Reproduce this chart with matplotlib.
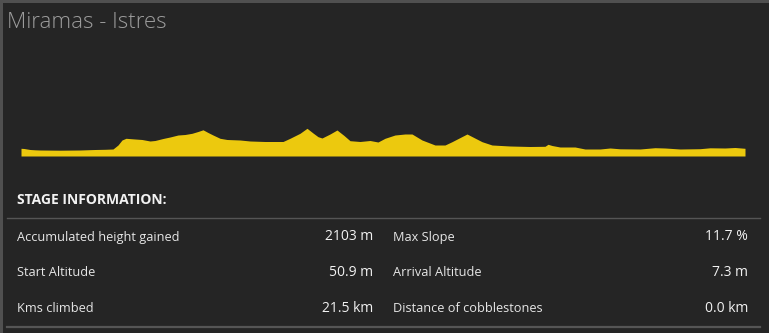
import matplotlib
matplotlib.use("Agg")
import matplotlib.pyplot as plt
from matplotlib.lines import Line2D
from matplotlib.patches import Rectangle

plt.rcParams['font.family'] = ['Open Sans', 'DejaVu Sans']

# Stage profile: distance (km) and altitude (m)
distance_km = [0, 0.75, 2.25, 3.5, 4.75, 9.75, 14.75, 18.5, 21, 23, 24.25, 25.25, 26.25,
               28.5, 30.25, 32.25, 33.5, 35.5, 37.25, 39.25, 41, 42.75, 44.25, 45.5,
               46.75, 48, 49.75, 51.5, 54.75, 57.25, 61, 65.5, 67.25, 69.75, 71.5, 73,
               74.25, 75.25, 77.25, 79, 80.75, 82.25, 84.75, 87.25, 89.25, 91, 93.5, 96,
               97.75, 100.25, 103.5, 106, 107.75, 111.5, 115.25, 117.75, 122.25, 127.25,
               131, 131.75, 132.75, 134.75, 138.5, 141, 144.75, 147.25, 149.75, 154.75,
               158.5, 161, 164.75, 169.75, 172.25, 176, 178.5, 181]
altitude_m = [77, 75, 65, 62, 60, 58, 60, 65, 67, 70, 110, 160, 177,
              170, 165, 150, 155, 175, 190, 210, 215, 227, 245, 262,
              235, 210, 177, 165, 160, 150, 145, 145, 177, 227, 277, 230,
              193, 180, 220, 260, 205, 153, 145, 155, 140, 177, 210, 220,
              220, 160, 110, 110, 143, 220, 143, 110, 100, 95,
              97, 117, 105, 90, 90, 70, 70, 80, 72, 70,
              83, 80, 70, 73, 82, 80, 85, 77]

stage_title = "Miramas - Istres"
section_title = "STAGE INFORMATION:"
left_labels = ["Accumulated height gained", "Start Altitude", "Kms climbed"]
left_values = ["2103 m", "50.9 m", "21.5 km"]
right_labels = ["Max Slope", "Arrival Altitude", "Distance of cobblestones"]
right_values = ["11.7 %", "7.3 m", "0.0 km"]

W, H = 769, 333
BG = "#252525"
BORDER = "#505050"
YELLOW = "#ECC90E"

fig = plt.figure(figsize=(W / 100, H / 100), dpi=100)
fig.patch.set_facecolor(BG)


def fx(px):
    return px / W


def fy(py):
    return 1 - py / H


# panel frame: top and left edges
fig.add_artist(Rectangle((0, fy(2.5)), 1, 2.5 / H, transform=fig.transFigure,
                         facecolor=BORDER, edgecolor='none'))
fig.add_artist(Rectangle((0, 0), 2.5 / W, 1, transform=fig.transFigure,
                         facecolor=BORDER, edgecolor='none'))

fig.text(fx(7), fy(22), stage_title, color="#9c9c9c", fontsize=16, weight='light',
         ha='left', va='center')

# elevation profile
ax = fig.add_axes([fx(21), fy(156), fx(745) - fx(21), (156 - 60) / H])
ax.set_facecolor('none')
ax.fill_between(distance_km, altitude_m, 0, color=YELLOW, linewidth=0)
ax.set_xlim(distance_km[0], distance_km[-1])
ax.set_ylim(0, 960)
ax.axis('off')

fig.text(fx(17), fy(199.5), section_title, color="#f2f2f2", fontsize=10,
         weight='bold', ha='left', va='center')

fig.add_artist(Line2D([fx(7), fx(760)], [fy(217.5), fy(217.5)],
                      transform=fig.transFigure, color="#555555", linewidth=1.0))
fig.add_artist(Line2D([fx(7), fx(760)], [fy(326.5), fy(326.5)],
                      transform=fig.transFigure, color="#555555", linewidth=1.6))

row_y = [237, 272, 308]
for i, yy in enumerate(row_y):
    fig.text(fx(17), fy(yy), left_labels[i], color="#e6e6e6", fontsize=9.2,
             ha='left', va='center')
    fig.text(fx(373), fy(yy), left_values[i], color="#f2f2f2", fontsize=10,
             ha='right', va='center')
    fig.text(fx(393), fy(yy), right_labels[i], color="#e6e6e6", fontsize=9.2,
             ha='left', va='center')
    fig.text(fx(748), fy(yy), right_values[i], color="#f2f2f2", fontsize=10,
             ha='right', va='center')

fig.savefig("out.png", dpi=100, facecolor=BG)
